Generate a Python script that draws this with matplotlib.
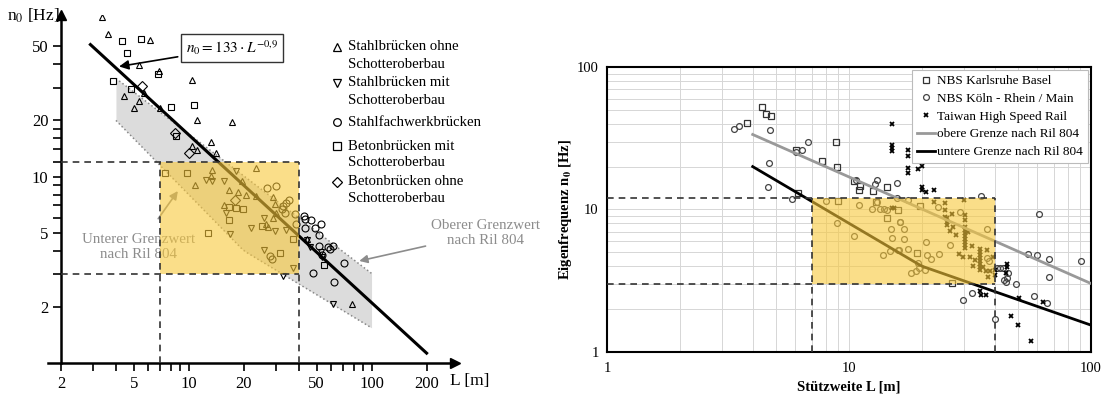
import numpy as np
import matplotlib
matplotlib.use("Agg")
import matplotlib.pyplot as plt
from matplotlib.lines import Line2D
from matplotlib.patches import Rectangle
from matplotlib.ticker import FixedLocator, FixedFormatter, NullFormatter

plt.rcParams['font.family'] = ['Liberation Serif', 'DejaVu Serif']
plt.rcParams['mathtext.fontset'] = 'stix'

# ---------------- left: bridge measurements, span L [m] / frequency n0 [Hz]
st_ohne_L = [3.37, 3.60, 6.11, 5.33, 6.84, 10.4, 4.45, 5.38, 5.03, 6.99, 11.1, 17.3, 13.2, 10.4, 11.1, 14.1, 5.66,
             23.4, 13.4, 13.2, 10.8, 19.5, 16.6, 18.7, 20.7, 23.4, 15.6, 28.9, 29.7, 29.9, 28.9, 26.4, 27.3, 44.1, 77.9]
st_ohne_n = [72.0, 58.2, 54.0, 39.7, 37.0, 33.0, 27.1, 25.3, 23.2, 23.4, 20.2, 19.6, 15.3, 14.5, 13.8, 13.3, 28.0,
             11.1, 10.8, 10.1, 8.99, 9.5, 8.45, 8.24, 7.94, 7.85, 7.0, 7.75, 7.08, 6.4, 5.96, 5.54, 5.36, 4.65, 2.07]
st_mit_L = [12.5, 13.4, 15.6, 18.2, 15.9, 25.8, 22.0, 29.7, 16.8, 34.0, 25.8, 37.3, 32.8, 44.1, 46.2, 52.9, 53.6, 61.3]
st_mit_n = [9.55, 9.44, 9.44, 10.7, 6.34, 5.96, 5.27, 5.1, 4.94, 5.16, 4.02, 3.22, 2.94, 4.55, 4.19, 3.94, 3.72, 2.07]
fachwerk_L = [26.7, 29.9, 35.4, 34.0, 32.6, 32.3, 33.7, 38.2, 38.6, 42.8, 43.4, 46.6, 52.9, 43.4, 49.1, 51.8,
              51.3, 57.5, 61.8, 59.6, 71.1, 47.6, 62.6, 53.6, 27.8, 28.7]
fachwerk_n = [8.63, 8.95, 7.53, 7.17, 6.93, 6.67, 6.34, 6.26, 5.54, 6.18, 5.89, 5.82, 5.58, 5.32, 5.32, 4.85,
              4.24, 4.21, 4.24, 4.07, 3.45, 3.05, 2.73, 3.78, 3.75, 3.63]
beton_mit_L = [4.30, 5.47, 4.58, 6.78, 3.86, 4.84, 8.0, 10.65, 8.51, 7.45, 9.8, 16.6, 18.1, 19.9, 16.7, 12.8,
               25.1, 31.5, 37.3, 55.2]
beton_mit_n = [53.4, 54.7, 46.2, 35.5, 32.6, 29.6, 23.5, 24.1, 16.4, 10.5, 10.4, 6.89, 6.74, 6.72, 5.84, 4.96,
               5.42, 3.88, 4.6, 3.34]
beton_ohne_L = [5.57, 8.45, 10.1, 17.9]
beton_ohne_n = [30.5, 17.1, 13.3, 7.44]

# ---------------- right: high speed lines
ka_L = [4.35, 4.53, 4.75, 3.80, 8.84, 7.76, 8.94, 6.15, 6.02, 11.1, 11.0, 12.6, 14.3, 19.7, 15.9, 14.4, 8.98,
        10.5, 19.05, 26.7, 12.9]
ka_n = [52.7, 46.7, 45.2, 40.5, 29.9, 21.8, 19.8, 13.1, 26.0, 14.7, 13.7, 13.5, 14.5, 10.5, 9.95, 8.69, 11.4,
        15.9, 4.95, 3.06, 11.2]
koeln_L = [3.35, 3.50, 4.70, 6.79, 6.04, 6.41, 4.69, 4.63, 5.80, 8.02, 8.92, 10.7, 13.0, 12.8, 15.8, 17.6, 15.8,
           13.0, 11.0, 12.5, 13.9, 14.3, 16.2, 16.8, 10.5, 15.0, 16.9, 20.9, 16.0, 17.5, 23.4, 61.0, 35.1, 28.8,
           37.1, 26.1, 23.6, 21.1, 21.8, 37.1, 38.0, 54.9, 60.0, 67.0, 91.2, 40.8, 42.1, 43.2, 45.5, 45.1, 43.7,
           44.5, 49.1, 67.3, 32.1, 29.5, 58.1, 65.6, 40.1, 20.6, 13.8, 14.8, 16.1, 18.0, 18.9, 19.4, 19.2, 14.9,
           16.3, 13.4]
koeln_n = [37.0, 38.7, 35.9, 30.0, 25.2, 26.2, 21.3, 14.4, 11.8, 11.4, 8.09, 16.1, 16.1, 15.1, 15.4, 11.6, 12.0,
           11.2, 10.7, 10.0, 10.1, 9.95, 8.11, 7.33, 6.5, 6.34, 6.2, 5.91, 5.23, 5.25, 10.4, 9.23, 12.5, 9.58,
           7.33, 5.63, 4.87, 4.79, 4.49, 4.59, 4.38, 4.9, 4.82, 4.49, 4.33, 3.91, 3.91, 3.91, 3.61, 3.33, 3.22,
           3.10, 3.0, 3.36, 2.60, 2.31, 2.46, 2.21, 1.70, 3.79, 4.77, 5.11, 5.17, 3.59, 3.70, 3.91, 4.21, 7.25,
           8.15, 10.1]
thsr_L = [15.0, 15.0, 15.0, 15.0, 17.5, 17.5, 17.5, 17.5, 19.2, 20.0, 20.0, 20.0, 20.9, 22.5, 22.5, 15.0, 15.4,
          24.9, 24.9, 29.9, 26.6, 24.9, 30.2, 30.2, 25.3, 25.3, 25.3, 27.0, 26.1, 27.7,
          30.2, 30.2, 30.2, 30.2, 30.2, 30.2, 30.2, 30.2, 31.1, 32.1, 28.6, 29.7, 31.6, 33.2, 32.4,
          34.8, 34.8, 34.8, 34.8, 34.8, 34.8, 34.8, 34.8, 35.9, 37.1, 36.8, 38.3, 37.6, 39.5, 45.1, 45.1, 44.5,
          34.8, 35.1, 36.7, 50.4, 46.6, 49.8, 56.5, 63.5, 40.0, 40.0]
thsr_n = [39.9, 28.2, 26.9, 25.6, 26.2, 23.6, 19.7, 18.0, 19.1, 20.1, 14.5, 13.8, 13.3, 13.8, 11.2, 10.3, 10.3,
          11.1, 9.84, 11.7, 9.33, 8.84, 9.08, 8.38, 8.65, 8.18, 7.73, 7.52, 7.05, 6.58,
          7.52, 7.13, 6.79, 6.47, 6.17, 5.88, 5.60, 5.34, 6.94, 5.51, 4.90, 4.64, 4.64, 4.40, 3.99,
          5.25, 5.0, 4.77, 4.54, 4.33, 4.12, 3.93, 3.74, 3.95, 5.23, 3.69, 3.69, 3.36, 4.64, 4.17, 3.95, 3.61,
          2.68, 2.50, 2.50, 2.40, 1.79, 1.55, 1.19, 2.25, 3.74, 3.45]

# regression line and Ril 804 limits
fit_a, fit_b = 133.0, -0.9
upper_a, upper_b = 94.76, -0.748
lower_a, lower_a2, lower_b2 = 80.0, 23.58, -0.592
box_L = (7, 40)
box_n = (3, 12)


def ril_upper(L):
    return upper_a * L ** upper_b


def ril_lower(L):
    return np.where(L <= 20, lower_a / L, lower_a2 * L ** lower_b2)


yellow = '#f8c83a'
grey_txt = '#8c8c8c'

fig = plt.figure(figsize=(11.03, 3.96), dpi=100)

# ======================= left panel
ax = fig.add_axes([48 / 1103, 33 / 396, 407 / 1103, 348 / 396])
ax.set_xscale('log')
ax.set_yscale('log')
ax.set_xlim(1.70, 286)
ax.set_ylim(1.0, 73.5)
for s in ['top', 'right']:
    ax.spines[s].set_visible(False)
ax.spines['left'].set_position(('data', 2))
ax.spines['left'].set_linewidth(1.8)
ax.spines['bottom'].set_linewidth(1.8)
ax.plot(1, 1.0, '>k', ms=7, transform=ax.get_yaxis_transform(), clip_on=False)
ax.plot(2, 1, '^k', ms=7, transform=ax.get_xaxis_transform(), clip_on=False)

ax.xaxis.set_major_locator(FixedLocator([2, 5, 10, 20, 50, 100, 200]))
ax.xaxis.set_major_formatter(FixedFormatter(['2', '5', '10', '20', '50', '100', '200']))
ax.xaxis.set_minor_locator(FixedLocator([3, 4, 6, 7, 8, 9, 30, 40, 60, 70, 80, 90]))
ax.xaxis.set_minor_formatter(NullFormatter())
ax.yaxis.set_major_locator(FixedLocator([2, 5, 10, 20, 50]))
ax.yaxis.set_major_formatter(FixedFormatter(['2', '5', '10', '20', '50']))
ax.yaxis.set_minor_locator(FixedLocator([3, 4, 6, 7, 8, 9, 12, 14, 16, 18, 30, 40]))
ax.yaxis.set_minor_formatter(NullFormatter())
ax.tick_params(which='both', direction='out', length=6, width=1.2, labelsize=12, pad=3)

Lg = np.geomspace(4, 100, 80)
ax.fill_between(Lg, ril_lower(Lg), ril_upper(Lg), color='#dcdcdc', lw=0, zorder=1)
ax.plot(Lg, ril_upper(Lg), ls=':', color='#888888', lw=1.1, zorder=1.5)
ax.plot(Lg, ril_lower(Lg), ls=':', color='#888888', lw=1.1, zorder=1.5)

mk = dict(ls='none', mfc='none', mec='black', mew=0.8, ms=5, zorder=2)
ax.plot(st_ohne_L, st_ohne_n, marker='^', **mk)
ax.plot(st_mit_L, st_mit_n, marker='v', **mk)
ax.plot(fachwerk_L, fachwerk_n, marker='o', **mk)
ax.plot(beton_mit_L, beton_mit_n, marker='s', **mk)
ax.plot(beton_ohne_L, beton_ohne_n, marker='D', **mk)

Lf = np.geomspace(2.9, 200, 50)
ax.plot(Lf, fit_a * Lf ** fit_b, color='black', lw=2.2, zorder=3)

ax.add_patch(Rectangle((box_L[0], box_n[0]), box_L[1] - box_L[0], box_n[1] - box_n[0],
                       facecolor=yellow, alpha=0.6, lw=0, zorder=4))
dash = dict(color='#333333', lw=1.2, dashes=(4, 3), zorder=5)
ax.plot([2, box_L[1]], [box_n[1], box_n[1]], **dash)
ax.plot([2, box_L[1]], [box_n[0], box_n[0]], **dash)
ax.plot([box_L[0], box_L[0]], [1, box_n[1]], **dash)
ax.plot([box_L[1], box_L[1]], [1, box_n[1]], **dash)

ax.annotate(r'$n_0 = 133\cdot L^{-0{,}9}$', xy=(4.02, 38.7), xytext=(17.2, 49),
            ha='center', va='center', fontsize=11, zorder=6,
            bbox=dict(boxstyle='square,pad=0.3', fc='white', ec='#333333', lw=1.0),
            arrowprops=dict(arrowstyle='-|>', color='black', lw=1.2, mutation_scale=14))
ax.annotate('Unterer Grenzwert\nnach Ril 804', xy=(8.9, 8.6), xytext=(5.3, 4.2),
            ha='center', va='center', fontsize=10.8, color=grey_txt, zorder=3.5,
            arrowprops=dict(arrowstyle='-|>', color=grey_txt, lw=1.2, mutation_scale=12,
                            shrinkA=10))
ax.annotate('Oberer Grenzwert\nnach Ril 804', xy=(82.8, 3.5), xytext=(420, 5.0),
            ha='center', va='center', fontsize=10.8, color=grey_txt, annotation_clip=False,
            arrowprops=dict(arrowstyle='-|>', color=grey_txt, lw=1.2, mutation_scale=12,
                            shrinkA=2))

fig.text(7 / 1103, 1 - 16 / 396, r'n$_0$ [Hz]', fontsize=12.5, va='center', ha='left')
fig.text(450 / 1103, 1 - 381 / 396, 'L [m]', fontsize=12.5, va='center', ha='left')

# legend of the left panel, written out line by line
leg_rows = [('^', ['Stahlbrücken ohne', 'Schotteroberbau'], 47),
            ('v', ['Stahlbrücken mit', 'Schotteroberbau'], 83),
            ('o', ['Stahlfachwerkbrücken'], 122),
            ('s', ['Betonbrücken mit', 'Schotteroberbau'], 146),
            ('D', ['Betonbrücken ohne', 'Schotteroberbau'], 182)]
for m, lines, ypx in leg_rows:
    fig.add_artist(Line2D([337 / 1103], [1 - ypx / 396], marker=m, ls='none', mfc='none', mec='black',
                          mew=0.9, ms=5.5, transform=fig.transFigure))
    for i, t in enumerate(lines):
        fig.text(348 / 1103, 1 - (ypx + 17 * i) / 396, t, fontsize=10.6, va='center', ha='left')

# ======================= right panel
ax2 = fig.add_axes([607 / 1103, 44 / 396, 484 / 1103, 285 / 396])
ax2.set_xscale('log')
ax2.set_yscale('log')
ax2.set_xlim(1, 100)
ax2.set_ylim(1, 100)
for s in ax2.spines.values():
    s.set_linewidth(1.5)
ax2.grid(which='both', color='#d6d6d6', lw=0.7, zorder=0)
ax2.set_axisbelow(True)
ax2.xaxis.set_major_locator(FixedLocator([1, 10, 100]))
ax2.xaxis.set_major_formatter(FixedFormatter(['1', '10', '100']))
ax2.yaxis.set_major_locator(FixedLocator([1, 10, 100]))
ax2.yaxis.set_major_formatter(FixedFormatter(['1', '10', '100']))
ax2.xaxis.set_minor_formatter(NullFormatter())
ax2.yaxis.set_minor_formatter(NullFormatter())
ax2.tick_params(which='both', length=0, labelsize=10.5)
ax2.tick_params(axis='x', pad=7)
ax2.tick_params(axis='y', pad=6)

ax2.plot(ka_L, ka_n, ls='none', marker='s', mfc='none', mec='#333333', mew=0.9, ms=4.2, zorder=2,
         label='NBS Karlsruhe Basel')
ax2.plot(koeln_L, koeln_n, ls='none', marker='o', mfc='none', mec='#444444', mew=0.9, ms=4.2, zorder=2,
         label='NBS Köln - Rhein / Main')
ax2.plot(thsr_L, thsr_n, ls='none', marker='x', color='black', mew=1.3, ms=2.8, zorder=2,
         label='Taiwan High Speed Rail')
Lr = np.geomspace(4, 100, 80)
ax2.plot(Lr, ril_upper(Lr), color='#999999', lw=2, zorder=3, label='obere Grenze nach Ril 804')
ax2.plot(Lr, ril_lower(Lr), color='black', lw=2, zorder=3, label='untere Grenze nach Ril 804')

ax2.add_patch(Rectangle((box_L[0], box_n[0]), box_L[1] - box_L[0], box_n[1] - box_n[0],
                        facecolor=yellow, alpha=0.6, lw=0, zorder=4))
ax2.plot([1, box_L[1]], [box_n[1], box_n[1]], **dash)
ax2.plot([1, box_L[1]], [box_n[0], box_n[0]], **dash)
ax2.plot([box_L[0], box_L[0]], [1, box_n[1]], **dash)
ax2.plot([box_L[1], box_L[1]], [1, box_n[1]], **dash)

leg = ax2.legend(loc='upper right', fontsize=9.5, frameon=True, fancybox=False, framealpha=1,
                 edgecolor='#bbbbbb', borderaxespad=0.25, handlelength=1.4, handletextpad=0.15,
                 labelspacing=0.42, borderpad=0.35)
leg.get_frame().set_linewidth(0.8)
leg.set_zorder(6)

ax2.set_xlabel('Stützweite L [m]', fontsize=10.5, fontweight='bold', labelpad=4)
ax2.set_ylabel(r'Eigenfrequenz n$_\mathbf{0}$ [Hz]', fontsize=10.5, fontweight='bold', labelpad=2)

fig.savefig('out.png', dpi=100)
